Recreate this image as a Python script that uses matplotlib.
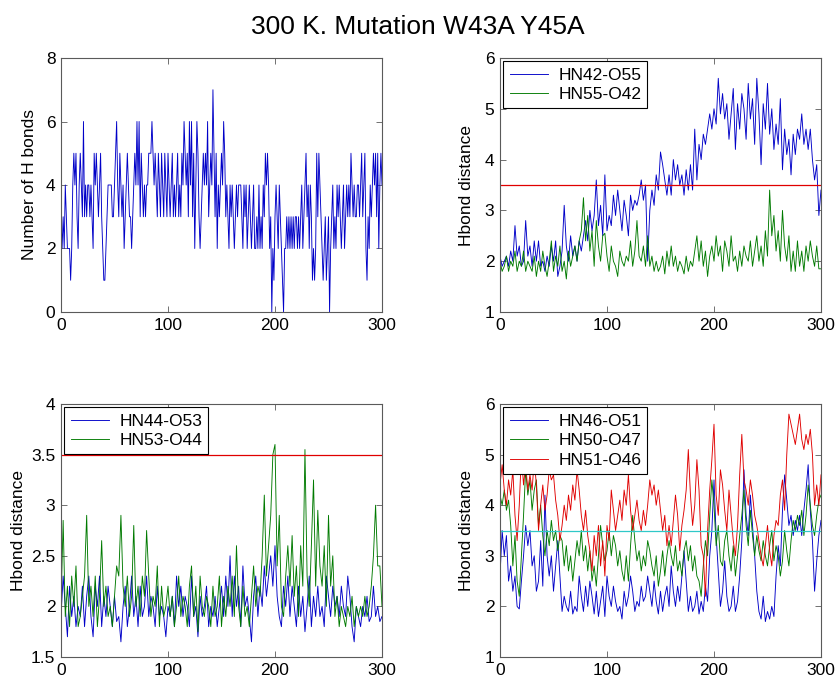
import numpy as np
import matplotlib
matplotlib.use('Agg')
import matplotlib.pyplot as plt
from matplotlib.ticker import FuncFormatter

plt.rcParams['font.family'] = ['Liberation Sans', 'DejaVu Sans']

# ---------------- data ----------------
hbond_count = [
    3, 2, 3, 2, 4, 3, 2, 2, 2, 1,
    2, 4, 5, 4, 5, 3, 2, 4, 5, 4,
    3, 6, 3, 4, 3, 4, 4, 3, 4, 3,
    2, 5, 4, 5, 4, 3, 4, 5, 3, 2,
    1, 1, 2, 3, 4, 4, 4, 4, 3, 3,
    4, 5, 6, 4, 3, 5, 4, 3, 4, 2,
    3, 4, 5, 4, 3, 3, 2, 3, 4, 5,
    4, 6, 4, 6, 3, 5, 4, 3, 4, 3,
    4, 4, 5, 5, 5, 6, 5, 4, 5, 4,
    3, 5, 4, 3, 5, 4, 3, 5, 4, 3,
    5, 4, 3, 4, 5, 3, 4, 3, 4, 5,
    3, 4, 3, 5, 4, 6, 5, 4, 5, 3,
    6, 4, 6, 3, 5, 2, 4, 6, 5, 3,
    2, 3, 4, 5, 4, 5, 4, 6, 3, 4,
    5, 4, 7, 5, 3, 5, 2, 4, 3, 4,
    5, 4, 6, 5, 3, 4, 3, 2, 4, 3,
    4, 3, 2, 3, 4, 3, 4, 4, 4, 3,
    2, 4, 3, 4, 2, 3, 4, 3, 2, 3,
    4, 2, 2, 3, 2, 4, 2, 3, 2, 4,
    3, 5, 4, 5, 4, 2, 3, 0, 2, 1,
    3, 4, 3, 2, 4, 3, 2, 1, 0, 2,
    2, 3, 2, 3, 2, 3, 2, 3, 2, 3,
    3, 2, 3, 2, 3, 4, 2, 3, 4, 5,
    3, 4, 2, 4, 3, 1, 2, 1, 2, 5,
    3, 5, 4, 3, 2, 1, 2, 3, 1, 2,
    3, 0, 2, 3, 4, 2, 3, 2, 4, 3,
    4, 3, 2, 3, 4, 2, 3, 4, 3, 4,
    3, 5, 4, 3, 4, 3, 3, 4, 4, 3,
    4, 5, 3, 4, 5, 2, 1, 3, 2, 4,
    3, 4, 5, 4, 5, 3, 5, 2, 4, 5,
    4,
]

time_step = 2  # distance series sampled every 2 frames

hn42_o55 = [
    2.1, 1.9, 2.0, 2.1, 1.9, 2.2, 2.0, 2.7, 2.1, 2.3,
    1.9, 2.0, 2.8, 2.1, 2.3, 1.9, 2.4, 2.0, 2.4, 1.9,
    2.0, 1.8, 2.1, 1.9, 2.3, 2.0, 2.4, 1.7, 1.9, 2.2,
    3.1, 2.3, 2.0, 2.5, 2.1, 2.3, 2.0, 2.4, 2.2, 2.5,
    2.8, 2.4, 3.0, 2.6, 2.9, 3.6, 2.7, 3.1, 2.5, 3.7,
    2.6, 2.9, 2.7, 3.3, 2.9, 3.4, 3.0, 2.6, 3.2, 2.9,
    2.5, 3.3, 3.0, 3.2, 3.1, 3.3, 3.6, 3.2, 3.5, 2.0,
    3.0, 3.4, 3.1, 3.7, 3.4, 4.15, 3.9, 3.6, 3.3, 3.7,
    3.3, 4.0, 3.6, 3.9, 3.5, 3.7, 3.3, 3.8, 3.4, 3.9,
    3.4, 4.6, 3.6, 4.3, 4.0, 4.5, 4.3, 4.6, 4.9, 4.6,
    5.0, 4.7, 5.6, 4.9, 5.3, 4.8, 5.1, 4.4, 4.9, 5.4,
    4.2, 5.1, 4.6, 5.3, 5.0, 4.4, 5.5, 4.8, 5.2, 4.3,
    5.6, 4.9, 3.9, 5.1, 4.6, 5.5, 4.5, 5.0, 4.2, 4.7,
    4.3, 5.2, 3.8, 4.6, 4.1, 4.4, 3.7, 4.5, 4.1, 4.6,
    4.4, 4.9, 4.3, 4.6, 4.2, 4.6, 4.0, 3.6, 3.9, 2.9,
    3.4,
]
hn55_o42 = [
    2.0, 1.8, 1.9, 2.1, 1.8, 2.0, 1.9, 2.2, 1.8, 2.0,
    1.9, 2.2, 1.8, 2.0, 1.9, 1.8, 2.1, 1.7, 2.0, 1.8,
    2.2, 1.9, 1.7, 2.0, 2.4, 1.8, 2.1, 1.9, 2.3, 1.8,
    2.0, 1.65, 2.2, 1.9, 2.1, 2.3, 2.0, 2.4, 2.6, 3.25,
    2.4, 2.9, 2.2, 2.6, 1.9, 2.8, 2.3, 2.0, 2.5, 2.55,
    2.1, 1.8, 2.3, 2.0, 1.9, 1.7, 2.2, 2.0, 1.9, 2.1,
    2.0, 2.4, 1.9, 2.2, 2.8, 2.1, 2.0, 2.3, 1.9, 2.5,
    1.9, 2.1, 1.8, 2.0, 1.8, 1.9, 2.1, 1.75, 2.2, 1.9,
    2.3, 1.9, 2.1, 1.8, 2.0, 1.9, 1.75, 2.1, 1.8, 2.0,
    1.9, 2.2, 2.5, 2.0, 2.4, 1.9, 2.2, 1.7, 2.1, 2.3,
    2.0, 2.5, 2.1, 2.3, 1.8, 2.4, 2.2, 1.9, 2.5, 2.0,
    2.1, 1.8, 2.2, 1.9, 2.3, 2.1, 2.0, 2.4, 1.9, 2.2,
    2.5, 2.0, 2.3, 1.9, 2.6, 2.1, 3.4, 2.5, 2.9, 2.2,
    2.6, 2.0, 3.0, 2.3, 2.0, 2.5, 1.8, 2.2, 1.8, 2.4,
    1.9, 2.2, 1.8, 2.3, 2.0, 2.4, 2.1, 1.9, 2.3, 1.85,
    1.85,
]

hn44_o53 = [
    1.9, 2.3, 2.0, 1.7, 2.2, 1.9, 2.1, 1.8, 2.0, 1.9,
    2.2, 1.8, 2.1, 2.3, 1.9, 1.7, 2.2, 2.0, 2.3, 1.8,
    2.1, 1.9, 2.2, 2.0, 1.8, 2.1, 1.85, 1.9, 1.65, 2.0,
    2.2, 1.8, 2.0, 2.3, 1.9, 2.1, 1.8, 2.2, 1.9, 2.0,
    2.3, 1.9, 2.1, 2.0, 1.8, 2.2, 1.9, 2.0, 1.9, 1.7,
    2.0, 1.9, 2.1, 1.8, 2.3, 2.0, 2.2, 1.9, 2.1, 2.0,
    1.8, 2.3, 1.9, 2.0, 1.7, 2.1, 1.9, 2.0, 2.2, 1.8,
    2.0, 1.9, 2.1, 1.8, 2.0, 2.2, 1.9, 2.3, 2.0, 2.5,
    1.9, 2.3, 2.0, 2.2, 1.8, 2.4, 2.0, 2.1, 1.9, 1.65,
    2.1, 2.3, 1.9, 2.2, 2.0, 2.4, 2.1, 2.3, 2.5, 2.2,
    2.6, 2.1, 1.9, 1.8, 2.2, 2.0, 2.3, 1.9, 2.2, 2.0,
    1.8, 2.2, 1.9, 2.1, 1.75, 2.0, 2.3, 1.8, 2.1, 1.9,
    2.2, 1.9, 2.0, 1.8, 2.3, 2.1, 1.9, 2.2, 2.0, 2.1,
    1.9, 2.2, 2.0, 1.9, 2.3, 2.1, 1.8, 1.65, 2.0, 1.9,
    1.8, 2.0, 1.9, 2.1, 1.85, 1.9, 2.2, 1.9, 2.0, 1.85,
    1.9,
]
hn53_o44 = [
    2.0, 2.85, 1.9, 2.2, 1.8, 2.3, 2.0, 2.4, 1.8, 1.9,
    2.1, 2.3, 2.9, 2.0, 2.2, 1.9, 2.3, 1.8, 2.1, 2.65,
    2.0, 2.2, 1.9, 2.0, 1.8, 2.1, 2.4, 2.3, 2.9, 2.2,
    2.0, 2.3, 1.9, 2.1, 2.8, 2.0, 2.2, 1.9, 2.3, 2.1,
    2.75, 2.3, 1.9, 2.1, 2.0, 2.4, 1.8, 2.2, 1.9, 2.0,
    2.2, 1.9, 2.1, 1.8, 2.0, 2.3, 1.9, 2.1, 2.0, 1.8,
    2.2, 2.4, 1.9, 2.2, 1.75, 2.3, 2.0, 1.9, 2.1, 2.0,
    1.8, 2.2, 1.9, 2.0, 2.3, 1.8, 2.1, 1.9, 2.2, 2.0,
    2.3, 1.9, 2.6, 2.0, 1.8, 2.2, 1.9, 2.0, 1.8, 2.1,
    2.4, 2.0, 2.2, 2.1, 2.5, 3.1, 2.3, 2.6, 2.9, 3.5,
    3.6, 2.4, 2.9, 2.0, 1.9, 2.3, 2.6, 2.2, 2.7, 2.1,
    2.4, 1.9, 2.6, 2.2, 3.55, 2.3, 2.0, 2.6, 3.25, 2.2,
    2.95, 2.4, 2.2, 2.6, 2.0, 2.9, 2.2, 2.5, 1.9, 2.1,
    1.8, 2.0, 1.9, 1.8, 2.0, 1.9, 2.1, 1.8, 2.0, 1.9,
    2.0, 1.9, 2.1, 1.9, 2.0, 2.2, 2.5, 3.0, 2.4, 2.4,
    2.0,
]

hn46_o51 = [
    2.6, 3.5, 3.0, 3.4, 2.5, 2.8, 2.3, 2.6, 2.0, 1.95,
    2.5, 3.0, 3.6, 3.2, 3.5, 2.8, 3.0, 2.3, 2.5, 3.3,
    2.4, 4.2, 3.0, 2.6, 3.0, 2.3, 2.8, 3.3, 2.6, 1.9,
    2.2, 2.0, 1.9, 2.3, 1.85, 2.0, 1.9, 2.6, 2.2, 1.9,
    2.4, 2.0, 2.5, 2.2, 1.85, 2.3, 1.8, 2.1, 2.4, 1.8,
    2.6, 2.2, 2.0, 2.4, 2.1, 1.9, 2.0, 1.75, 2.3, 2.0,
    2.2, 2.6, 2.3, 1.9, 2.1, 2.0, 2.4, 2.1, 2.2, 2.6,
    2.3, 2.0, 2.5, 2.1, 1.85, 2.3, 1.9, 2.2, 2.4, 2.0,
    2.8, 2.3, 2.0, 2.4, 2.1, 2.6, 3.1, 2.5, 1.9, 2.2,
    1.9, 2.0, 2.3, 1.85, 2.1, 1.9, 2.4, 2.1, 3.0, 3.5,
    4.5, 3.4, 2.7, 2.0, 2.3, 2.9, 2.2, 1.9, 2.0, 2.4,
    1.9, 2.1, 2.6, 3.3, 4.7, 3.8, 3.4, 4.2, 3.6, 3.0,
    2.3, 1.9, 1.75, 2.2, 1.7, 1.9, 1.75, 2.0, 1.8, 2.6,
    3.2, 2.8, 3.9, 4.6, 4.1, 3.6, 3.8, 3.4, 3.7, 3.5,
    3.8, 3.4, 3.9, 4.3, 4.8, 3.9, 3.3, 2.3, 2.9, 3.4,
    3.7,
]
hn50_o47 = [
    4.2, 4.0, 4.3, 3.9, 4.1, 3.6, 2.8, 3.4, 2.5, 2.2,
    3.0, 3.8, 4.7, 4.2, 4.5, 3.9, 4.3, 4.5, 3.6, 4.0,
    3.4, 3.0, 3.5, 3.2, 3.7, 3.3, 3.5, 3.1, 3.4, 3.3,
    2.8, 3.2, 2.7, 3.0, 2.5, 2.9, 3.3, 3.0, 3.5, 2.9,
    3.2, 2.7, 3.1, 2.5, 2.8, 2.4, 3.0, 3.6, 3.2, 2.9,
    3.1, 3.5, 3.0, 3.4, 3.2, 2.8, 3.1, 2.7, 2.5, 3.0,
    2.5, 3.2, 3.8, 3.3, 2.9, 3.1, 2.7, 3.0, 2.8, 3.3,
    3.1, 2.8, 2.6, 3.0, 2.4, 2.7, 3.1, 2.6, 3.0, 3.3,
    3.0, 2.8, 3.2, 2.7, 2.9, 2.6, 3.1, 3.3, 2.9, 3.2,
    2.7, 3.0, 2.6, 2.5, 2.2, 2.8, 3.3, 3.0, 3.8, 4.5,
    4.0, 3.2, 3.6, 2.9, 2.8, 3.3, 3.5, 3.0, 2.7, 3.2,
    2.6, 3.0, 3.4, 3.8, 4.3, 3.6, 3.2, 3.9, 3.4, 3.0,
    3.4, 3.1, 2.9, 3.3, 3.0, 2.8, 3.2, 3.5, 2.9, 3.2,
    3.0, 2.6, 2.9, 3.5, 3.1, 2.8, 3.3, 3.7, 3.5, 3.8,
    3.6, 3.9, 3.4, 3.8, 4.4, 4.0, 3.6, 3.4, 3.8, 4.1,
    4.2,
]
hn51_o46 = [
    4.4, 4.8, 4.3, 4.0, 4.5, 4.2, 4.7, 3.8, 3.3, 4.0,
    5.0, 4.4, 4.8, 4.3, 4.6, 4.3, 4.9, 4.4, 3.5, 4.0,
    4.4, 3.9, 4.2, 4.7, 4.5, 4.6, 4.1, 3.8, 3.3, 3.6,
    4.0, 3.7, 4.2, 3.9, 4.4, 4.1, 4.7, 4.3, 3.8, 3.5,
    3.9, 3.4, 3.1, 2.7, 3.4, 3.0, 3.6, 2.8, 3.3, 2.6,
    3.6, 3.3, 4.3, 3.9, 3.5, 3.8, 4.1, 3.7, 4.3, 4.0,
    4.6, 3.9, 3.5, 3.8, 4.1, 3.7, 3.5, 3.9, 3.6, 4.0,
    4.5, 4.2, 4.4, 4.0, 4.3, 3.9, 3.5, 3.8, 3.2, 3.6,
    3.2, 3.7, 4.2, 3.8, 3.1, 3.6, 3.9, 4.3, 5.1, 4.2,
    3.6, 4.0, 4.9, 4.3, 3.2, 3.0, 2.2, 3.5, 4.3, 4.9,
    5.6, 4.2, 3.8, 4.7, 4.4, 3.9, 3.5, 4.3, 3.8, 3.3,
    3.0, 3.6, 4.6, 5.4, 4.5, 4.3, 4.0, 4.5, 4.2, 3.8,
    3.6, 3.3, 3.0, 2.8, 3.2, 3.6, 3.1, 2.8, 3.4, 3.7,
    3.6, 4.2, 4.5, 3.9, 5.0, 5.8, 5.6, 5.4, 5.2, 5.5,
    5.8, 5.3, 5.1, 5.4, 5.2, 5.5, 5.0, 4.0, 4.4, 4.0,
    4.6,
]

threshold = 3.5
x_ticks = [0, 100, 200, 300]

t_count = np.arange(len(hbond_count))
t_dist = np.arange(len(hn42_o55)) * time_step

# ---------------- figure ----------------
W, H = 836, 679
fig = plt.figure(figsize=(W / 100, H / 100), dpi=100)

def add_ax(l, t, r, b):
    return fig.add_axes([l / W, 1 - b / H, (r - l) / W, (b - t) / H])

FS = 12.5
BLUE = '#0000c8'
GREEN = '#007a00'
RED = '#e00000'
CYAN = '#30c8c8'
AXC = '#5a5a5a'

def style(ax, yticks, ylim):
    ax.set_xlim(0, 300)
    ax.set_ylim(*ylim)
    ax.set_xticks(x_ticks)
    ax.set_yticks(yticks)
    ax.yaxis.set_major_formatter(FuncFormatter(lambda v, p: '%g' % v))
    ax.tick_params(direction='in', top=True, right=True, length=4,
                   width=0.6, color=AXC, labelsize=FS, pad=4)
    for s in ax.spines.values():
        s.set_color(AXC)
        s.set_linewidth(0.8)

def legend(ax):
    leg = ax.legend(loc='upper left', fontsize=FS, frameon=True, fancybox=False,
                    edgecolor='black', framealpha=1, borderaxespad=0.2,
                    handlelength=2.2, handletextpad=0.6, borderpad=0.35,
                    labelspacing=0.25)
    leg.get_frame().set_linewidth(0.8)

lw = 0.65

ax1 = add_ax(61, 58, 382, 312)
ax1.plot(t_count, hbond_count, color=BLUE, lw=lw)
style(ax1, [0, 2, 4, 6, 8], (0, 8))
ax1.set_ylabel('Number of H bonds', fontsize=FS, labelpad=6)

ax2 = add_ax(500, 58, 821, 312)
ax2.plot(t_dist, hn42_o55, color=BLUE, lw=lw, label='HN42-O55')
ax2.plot(t_dist, hn55_o42, color=GREEN, lw=lw, label='HN55-O42')
ax2.axhline(threshold, color=RED, lw=0.9)
style(ax2, [1, 2, 3, 4, 5, 6], (1, 6))
ax2.set_ylabel('Hbond distance', fontsize=FS, labelpad=8)
legend(ax2)

ax3 = add_ax(61, 404, 382, 657)
ax3.plot(t_dist, hn44_o53, color=BLUE, lw=lw, label='HN44-O53')
ax3.plot(t_dist, hn53_o44, color=GREEN, lw=lw, label='HN53-O44')
ax3.axhline(threshold, color=RED, lw=0.9)
style(ax3, [1.5, 2, 2.5, 3, 3.5, 4], (1.5, 4))
ax3.set_ylabel('Hbond distance', fontsize=FS, labelpad=4)
legend(ax3)

ax4 = add_ax(500, 404, 821, 657)
ax4.plot(t_dist, hn46_o51, color=BLUE, lw=lw, label='HN46-O51')
ax4.plot(t_dist, hn50_o47, color=GREEN, lw=lw, label='HN50-O47')
ax4.plot(t_dist, hn51_o46, color=RED, lw=lw, label='HN51-O46')
ax4.axhline(threshold, color=CYAN, lw=0.9)
style(ax4, [1, 2, 3, 4, 5, 6], (1, 6))
ax4.set_ylabel('Hbond distance', fontsize=FS, labelpad=8)
legend(ax4)

fig.text(418 / W, 1 - 34 / H, '300 K. Mutation W43A Y45A', ha='center',
         va='baseline', fontsize=19)

fig.savefig('out.png', dpi=100)
